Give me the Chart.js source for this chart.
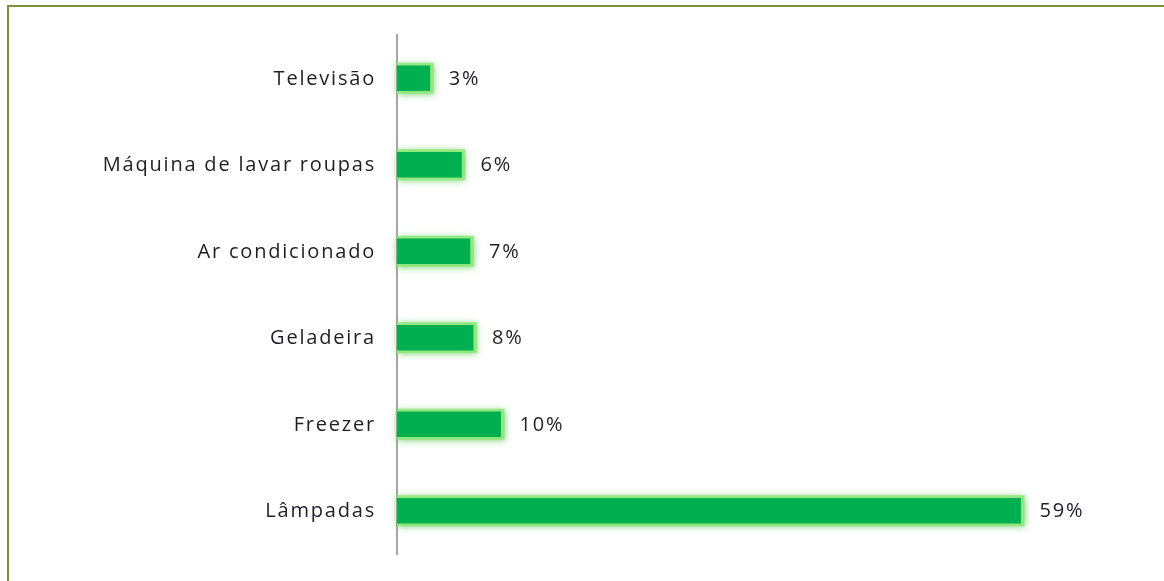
<!DOCTYPE html>
<html>
<head>
<meta charset="utf-8">
<script src="https://cdn.jsdelivr.net/npm/chart.js@4"></script>
<style>
  html, body { margin:0; padding:0; background:#fff; overflow:hidden; }
  #wrap { position:relative; width:1164px; height:581px; }
  #frame { position:absolute; left:7px; top:5px; width:1200px; height:600px;
           border-left:2px solid #77933c; border-top:2px solid #77933c; box-sizing:border-box; }
  canvas { position:absolute; left:0; top:0; }
</style>
</head>
<body>
<div id="wrap">
  <div id="frame"></div>
  <canvas id="consumo" width="1164" height="581"></canvas>
</div>
<script>
// categories top to bottom, bar lengths, printed labels
const categories = ['Televisão', 'Máquina de lavar roupas', 'Ar condicionado', 'Geladeira', 'Freezer', 'Lâmpadas'];
const values = [3.1, 6.1, 6.9, 7.2, 9.8, 59];
const valueLabels = ['3%', '6%', '7%', '8%', '10%', '59%'];

const textFont = '20px "Open Sans", "Liberation Sans", sans-serif';
const textColor = '#1e1e28';

// light green glowing rim behind each bar
const glow = {
  id: 'glow',
  beforeDatasetsDraw(chart){
    const ctx = chart.ctx;
    chart.getDatasetMeta(0).data.forEach(bar => {
      const h = bar.height;
      ctx.save();
      ctx.shadowColor = 'rgba(90,200,80,0.9)';
      ctx.shadowBlur = 7;
      ctx.shadowOffsetY = 1;
      ctx.fillStyle = 'rgba(140,232,120,0.85)';
      ctx.fillRect(bar.base, bar.y - h / 2 - 3, bar.x - bar.base + 4, h + 6);
      ctx.restore();
    });
  }
};

// category names left of the axis and percent labels after the bars
const texts = {
  id: 'texts',
  afterDraw(chart){
    const ctx = chart.ctx;
    const yScale = chart.scales.y;
    ctx.save();
    ctx.font = textFont;
    ctx.fillStyle = textColor;
    ctx.textBaseline = 'middle';
    ctx.letterSpacing = '1.8px';
    ctx.textAlign = 'right';
    categories.forEach((c, i) => {
      ctx.fillText(c, yScale.right - 21, yScale.getPixelForValue(i) + 1);
    });
    ctx.textAlign = 'left';
    chart.getDatasetMeta(0).data.forEach((bar, i) => {
      ctx.fillText(valueLabels[i], bar.x + 19, bar.y + 1);
    });
    ctx.restore();
  }
};

new Chart(document.getElementById('consumo'), {
  type: 'bar',
  data: {
    labels: categories,
    datasets: [{
      data: values,
      backgroundColor: '#00b050',
      borderWidth: 0,
      barThickness: 25
    }]
  },
  options: {
    indexAxis: 'y',
    responsive: false,
    animation: false,
    layout: { padding: { top: 35, bottom: 27, left: 0, right: 80 } },
    plugins: { legend: { display: false }, tooltip: { enabled: false } },
    scales: {
      x: { display: false, min: 0, max: 65 },
      y: {
        afterFit(scale){ scale.width = 397; },
        grid: { display: false, drawTicks: false },
        border: { display: true, color: '#a6a6a6', width: 2 },
        ticks: { display: false }
      }
    }
  },
  plugins: [glow, texts]
});
</script>
</body>
</html>
